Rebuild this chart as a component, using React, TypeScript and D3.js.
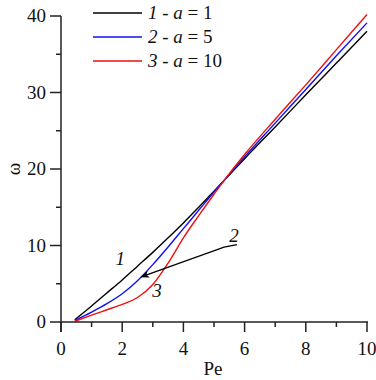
import React from 'react';
import * as d3 from 'd3';

// Pe values sampled from the figure
const pe = [0.45, 1, 1.5, 2, 2.5, 3, 3.5, 4, 4.5, 5, 5.5, 6, 7, 8, 9, 10];

// omega for each curve
const omegaA1 = [0.3, 2.1, 3.8, 5.5, 7.3, 9.1, 11.0, 12.95, 15.0, 17.1, 19.2, 21.35, 25.5, 29.7, 33.85, 38.0];
const omegaA5 = [0.2, 1.3, 2.4, 3.7, 5.4, 7.5, 9.8, 12.2, 14.6, 17.0, 19.3, 21.6, 26.0, 30.4, 34.8, 39.1];
const omegaA10 = [0.1, 0.9, 1.6, 2.3, 3.2, 4.9, 7.7, 11.0, 13.9, 16.7, 19.4, 21.9, 26.5, 31.0, 35.6, 40.2];

const seriesNames = ['1', '2', '3'];
const aValues = ['1', '5', '10'];
const colors = ['#000000', '#1010f0', '#f01010'];

const xMajor = [0, 2, 4, 6, 8, 10];
const xMinor = [1, 3, 5, 7, 9];
const yMajor = [0, 10, 20, 30, 40];
const yMinor = [5, 15, 25, 35];

// leader line for curve label "2" (data coords)
const leaderPts: [number, number][] = [[5.75, 10.1], [5.33, 9.8], [2.62, 5.9]];

const width = 376;
const height = 380;

const App = () => {
  const x = d3.scaleLinear().domain([0, 10]).range([61, 367]);
  const y = d3.scaleLinear().domain([0, 40]).range([322, 16]);

  const curves = [omegaA1, omegaA5, omegaA10];
  const line = d3
    .line<number>()
    .x((d, i) => x(pe[i]))
    .y((d) => y(d))
    .curve(d3.curveMonotoneX);

  const leader = d3
    .line<[number, number]>()
    .x((d) => x(d[0]))
    .y((d) => y(d[1]));

  const font = 'Liberation Serif, Tinos, Times New Roman, DejaVu Serif, serif';
  const axisY = y(0);
  const axisX = x(0);

  return (
    <svg width={width} height={height} fontFamily={font} style={{ position: 'absolute', left: 0, top: 0, background: 'white' }}>
      <defs>
        <marker id='arr' viewBox='0 0 10 10' refX='9' refY='5' markerWidth='7' markerHeight='7' orient='auto-start-reverse'>
          <path d='M0,1 L10,5 L0,9 L3,5 Z' fill='#000' />
        </marker>
      </defs>

      {/* curves */}
      {curves.map((c, i) => (
        <path key={i} d={line(c) || ''} fill='none' stroke={colors[i]} strokeWidth={1.4} />
      ))}

      {/* axes */}
      <g stroke='#222' strokeWidth={1.5}>
        <line x1={axisX} x2={axisX} y1={y(40)} y2={axisY + 10} />
        <line x1={axisX} x2={x(10) + 1} y1={axisY} y2={axisY} />
        {xMajor.map((t) => (
          <line key={'xM' + t} x1={x(t)} x2={x(t)} y1={axisY} y2={axisY + 10} />
        ))}
        {xMinor.map((t) => (
          <line key={'xm' + t} x1={x(t)} x2={x(t)} y1={axisY} y2={axisY + 5} />
        ))}
        {yMajor.map((t) => (
          <line key={'yM' + t} x1={axisX - 11} x2={axisX} y1={y(t)} y2={y(t)} />
        ))}
        {yMinor.map((t) => (
          <line key={'ym' + t} x1={axisX - 5} x2={axisX} y1={y(t)} y2={y(t)} />
        ))}
      </g>

      {/* tick labels */}
      <g fontSize={19} fill='#111'>
        {xMajor.map((t) => (
          <text key={'xl' + t} x={x(t)} y={355} textAnchor='middle'>{t}</text>
        ))}
        {yMajor.map((t) => (
          <text key={'yl' + t} x={46} y={y(t) + 6} textAnchor='end'>{t}</text>
        ))}
      </g>

      {/* axis titles */}
      <text x={213} y={375} fontSize={19} textAnchor='middle' fill='#111'>Pe</text>
      <text transform={`translate(20, ${y(20)}) rotate(-90)`} fontSize={19} textAnchor='middle' fill='#111'>ω</text>

      {/* legend */}
      {seriesNames.map((s, i) => (
        <g key={'lg' + s}>
          <line x1={93} x2={142} y1={13 + i * 24} y2={13 + i * 24} stroke={colors[i]} strokeWidth={1.4} />
          <text x={148} y={19 + i * 24} fontSize={19} fill='#111'>
            <tspan fontStyle='italic'>{s}</tspan>
            <tspan>{' -  '}</tspan>
            <tspan fontStyle='italic'>a</tspan>
            <tspan>{' = ' + aValues[i]}</tspan>
          </text>
        </g>
      ))}

      {/* curve annotations */}
      <text x={x(1.94)} y={y(7.5)} fontSize={19} fontStyle='italic' textAnchor='middle' fill='#111'>1</text>
      <text x={x(3.14)} y={y(3.3)} fontSize={19} fontStyle='italic' textAnchor='middle' fill='#111'>3</text>
      <text x={x(5.65)} y={y(10.4)} fontSize={19} fontStyle='italic' textAnchor='middle' fill='#111'>2</text>
      <path d={leader(leaderPts) || ''} fill='none' stroke='#000' strokeWidth={1.3} markerEnd='url(#arr)' />
    </svg>
  );
};

export default App;
